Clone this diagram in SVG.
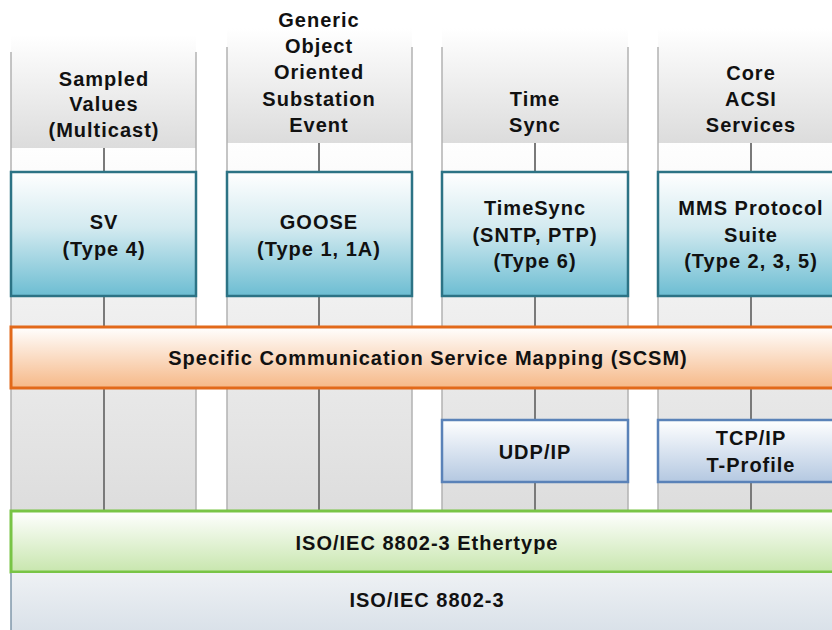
<svg xmlns="http://www.w3.org/2000/svg" width="832" height="630" viewBox="0 0 832 630">
  <defs>
    <linearGradient id="gHead" x1="0" y1="0" x2="0" y2="1">
      <stop offset="0" stop-color="#ffffff"/>
      <stop offset="1" stop-color="#dcdcdc"/>
    </linearGradient>
    <linearGradient id="gBody" x1="0" y1="0" x2="0" y2="1">
      <stop offset="0" stop-color="#fefefe"/>
      <stop offset="1" stop-color="#dddddd"/>
    </linearGradient>
    <linearGradient id="gTeal" x1="0" y1="0" x2="0" y2="1">
      <stop offset="0" stop-color="#ffffff"/>
      <stop offset="0.45" stop-color="#d3eaf0"/>
      <stop offset="1" stop-color="#6cbdd2"/>
    </linearGradient>
    <linearGradient id="gOrange" x1="0" y1="0" x2="0" y2="1">
      <stop offset="0" stop-color="#ffffff"/>
      <stop offset="1" stop-color="#f6b887"/>
    </linearGradient>
    <linearGradient id="gGreen" x1="0" y1="0" x2="0" y2="1">
      <stop offset="0" stop-color="#ffffff"/>
      <stop offset="1" stop-color="#c8e6ae"/>
    </linearGradient>
    <linearGradient id="gBlue" x1="0" y1="0" x2="0" y2="1">
      <stop offset="0" stop-color="#ffffff"/>
      <stop offset="1" stop-color="#b4c8e1"/>
    </linearGradient>
    <linearGradient id="gPhys" x1="0" y1="0" x2="0" y2="1">
      <stop offset="0" stop-color="#eef1f4"/>
      <stop offset="1" stop-color="#d8e0e8"/>
    </linearGradient>
  </defs>
  <style>
    text { font-family: "Liberation Sans", Arial, sans-serif; font-weight: bold; font-size: 20px; letter-spacing: 1px; fill: #111; text-anchor: middle; }
    .head { fill: url(#gHead); }
    .body { fill: url(#gBody); }
    .edge { stroke: #b2b2b2; stroke-width: 1.5; fill: none; }
    .mid { stroke: #7a7a7a; stroke-width: 2; fill: none; }
    .teal { fill: url(#gTeal); stroke: #2c7385; stroke-width: 2.5; }
    .blue { fill: url(#gBlue); stroke: #5a82b8; stroke-width: 2.5; }
  </style>

  <rect width="832" height="630" fill="#ffffff"/>

  <!-- service columns: header, body and divider lines -->
  <g id="columns">
    <rect class="head" x="11" y="35" width="185" height="113"/>
    <rect class="body" x="11" y="148" width="185" height="363"/>
    <line class="edge" x1="11" y1="52" x2="11" y2="511"/>
    <line class="edge" x1="196" y1="52" x2="196" y2="511"/>
    <line class="mid" x1="104" y1="148" x2="104" y2="511"/>

    <rect class="head" x="227" y="28" width="185" height="115"/>
    <rect class="body" x="227" y="143" width="185" height="368"/>
    <line class="edge" x1="227" y1="47" x2="227" y2="511"/>
    <line class="edge" x1="412" y1="47" x2="412" y2="511"/>
    <line class="mid" x1="319" y1="143" x2="319" y2="511"/>

    <rect class="head" x="442" y="28" width="186" height="115"/>
    <rect class="body" x="442" y="143" width="186" height="368"/>
    <line class="edge" x1="442" y1="47" x2="442" y2="511"/>
    <line class="edge" x1="628" y1="47" x2="628" y2="511"/>
    <line class="mid" x1="535" y1="143" x2="535" y2="511"/>

    <rect class="head" x="658" y="28" width="186" height="115"/>
    <rect class="body" x="658" y="143" width="186" height="368"/>
    <line class="edge" x1="658" y1="47" x2="658" y2="511"/>
    <line class="mid" x1="751" y1="143" x2="751" y2="511"/>
  </g>

  <!-- column titles -->
  <g id="title-sv">
    <text x="104" y="86">Sampled</text>
    <text x="104" y="111">Values</text>
    <text x="104" y="137">(Multicast)</text>
  </g>
  <g id="title-goose">
    <text x="319" y="27">Generic</text>
    <text x="319" y="53">Object</text>
    <text x="319" y="79">Oriented</text>
    <text x="319" y="106">Substation</text>
    <text x="319" y="132">Event</text>
  </g>
  <g id="title-timesync">
    <text x="535" y="106">Time</text>
    <text x="535" y="132">Sync</text>
  </g>
  <g id="title-acsi">
    <text x="751" y="80">Core</text>
    <text x="751" y="106">ACSI</text>
    <text x="751" y="132">Services</text>
  </g>

  <!-- protocol boxes -->
  <g id="sv">
    <rect class="teal" x="11" y="172" width="185" height="124"/>
    <text x="104" y="229">SV</text>
    <text x="104" y="256">(Type 4)</text>
  </g>
  <g id="goose">
    <rect class="teal" x="227" y="172" width="185" height="124"/>
    <text x="319" y="229">GOOSE</text>
    <text x="319" y="256">(Type 1, 1A)</text>
  </g>
  <g id="timesync">
    <rect class="teal" x="442" y="172" width="186" height="124"/>
    <text x="535" y="215">TimeSync</text>
    <text x="535" y="242">(SNTP, PTP)</text>
    <text x="535" y="268">(Type 6)</text>
  </g>
  <g id="mms">
    <rect class="teal" x="658" y="172" width="186" height="124"/>
    <text x="751" y="215">MMS Protocol</text>
    <text x="751" y="242">Suite</text>
    <text x="751" y="268">(Type 2, 3, 5)</text>
  </g>

  <!-- mapping layer -->
  <g id="scsm">
    <rect x="11" y="327" width="840" height="61" fill="url(#gOrange)" stroke="#e2691a" stroke-width="3"/>
    <text x="428" y="365">Specific Communication Service Mapping (SCSM)</text>
  </g>

  <!-- transport boxes -->
  <g id="udp">
    <rect class="blue" x="442" y="420" width="186" height="62"/>
    <text x="535" y="459">UDP/IP</text>
  </g>
  <g id="tcp">
    <rect class="blue" x="658" y="420" width="186" height="62"/>
    <text x="751" y="445">TCP/IP</text>
    <text x="751" y="472">T-Profile</text>
  </g>

  <!-- link layers -->
  <g id="ethertype">
    <rect x="11" y="511" width="840" height="61" fill="url(#gGreen)" stroke="#78c445" stroke-width="3"/>
    <text x="427" y="550">ISO/IEC 8802-3 Ethertype</text>
  </g>
  <g id="ethernet">
    <rect x="11" y="573" width="840" height="62" fill="url(#gPhys)"/>
    <line x1="11" y1="573" x2="11" y2="630" stroke="#7f97aa" stroke-width="1.5"/>
    <text x="427" y="607">ISO/IEC 8802-3</text>
  </g>
</svg>
